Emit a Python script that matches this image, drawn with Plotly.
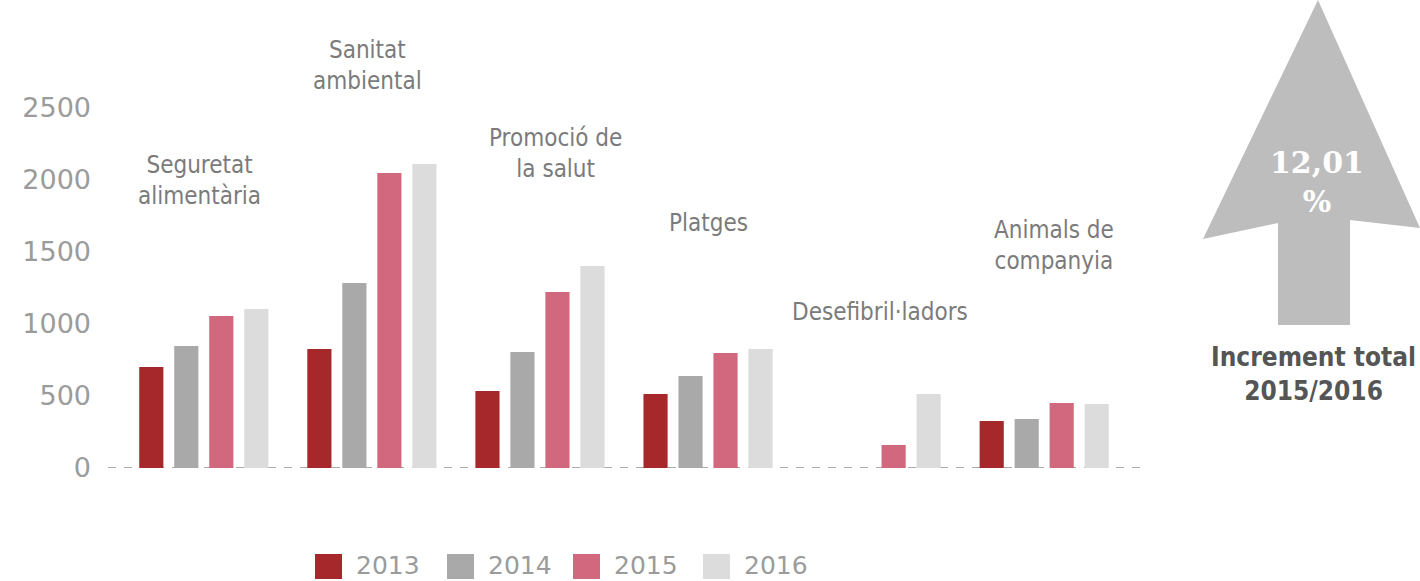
import plotly.graph_objects as go

W, H = 1420, 581
L, R, T, B = 108, 1140, 36, 468

categories = ["Seguretat<br>alimentària", "Sanitat<br>ambiental", "Promoció de<br>la salut",
              "Platges", "Desefibril·ladors", "Animals de<br>companyia"]
years = ["2013", "2014", "2015", "2016"]
v2013 = [701, 826, 535, 514, 0, 326]
v2014 = [847, 1285, 806, 639, 0, 340]
v2015 = [1056, 2049, 1222, 799, 160, 451]
v2016 = [1104, 2111, 1403, 826, 514, 444]
colors = ["#a6282b", "#a9a9a9", "#d1687d", "#dcdcdc"]
tick_vals = [0, 500, 1000, 1500, 2000, 2500]
increment_text = "12,01<br>%"
increment_label = "Increment total<br>2015/2016"

def px(x):
    return (x - L) / (R - L)

def py(y):
    return (B - y) / (B - T)

fig = go.Figure()
idx = list(range(len(categories)))
for yr, vals, c in zip(years, [v2013, v2014, v2015, v2016], colors):
    fig.add_trace(go.Bar(x=idx, y=vals, name=yr, marker=dict(color=c, line=dict(width=0)),
                         showlegend=False))

cond = "DejaVu Sans Condensed, sans-serif"
label_font = dict(family=cond, size=24, color="#7b7b7b")
label_pos = [(199, 180), (367, 65), (555, 153), (708, 223), (880, 312), (1054, 245)]
anns = []
for cat, (lx, ly) in zip(categories, label_pos):
    anns.append(dict(text=cat, x=px(lx), y=py(ly), xref="paper", yref="paper",
                     showarrow=False, font=label_font, xanchor="center", yanchor="middle"))

# arrow
arrow_pts = [(1318, 0), (1420, 228), (1350, 220), (1350, 325), (1278, 325), (1278, 223), (1203, 239)]
path = "M " + " L ".join(f"{px(x):.5f},{py(y):.5f}" for x, y in arrow_pts) + " Z"
shapes = [dict(type="path", path=path, xref="paper", yref="paper", fillcolor="#bdbdbd",
               line=dict(width=0), layer="below")]
anns.append(dict(text="<b>" + increment_text + "</b>", x=px(1317), y=py(182), xref="paper", yref="paper",
                 showarrow=False, font=dict(family="DejaVu Serif", size=30, color="white"),
                 xanchor="center", yanchor="middle"))
anns.append(dict(text="<b>" + increment_label + "</b>", x=px(1313), y=py(374), xref="paper", yref="paper",
                 showarrow=False, font=dict(family=cond, size=26, color="#555555"),
                 xanchor="center", yanchor="middle"))

# dashed baseline
shapes.append(dict(type="line", xref="paper", yref="y", x0=0, x1=1, y0=0, y1=0,
                   line=dict(color="#aaaaaa", width=2, dash="8px,8px"), layer="below"))

# legend drawn as swatches + labels
leg_x = [315, 447, 573, 703]
for yr, c, lx in zip(years, colors, leg_x):
    shapes.append(dict(type="rect", xref="paper", yref="paper", x0=px(lx), x1=px(lx + 27),
                       y0=py(579), y1=py(554), fillcolor=c, line=dict(width=0)))
    anns.append(dict(text=yr, x=px(lx + 39), y=py(565), xref="paper", yref="paper", showarrow=False,
                     xanchor="left", yanchor="middle",
                     font=dict(family="DejaVu Sans", size=25, color="#9b9b9b")))

fig.update_layout(
    width=W, height=H, margin=dict(l=L, r=W - R, t=T, b=H - B),
    paper_bgcolor="white", plot_bgcolor="white",
    barmode="group", bargap=0.167, bargroupgap=0.31,
    annotations=anns, shapes=shapes,
    xaxis=dict(range=[-0.57, 5.57], showticklabels=False, showgrid=False, zeroline=False, showline=False),
    yaxis=dict(range=[0, 3000], tickvals=tick_vals, showgrid=False, zeroline=False, showline=False,
               tickfont=dict(family="DejaVu Sans", size=27, color="#9b9b9b"), ticklabelstandoff=16),
)
fig.write_html("out.html", config={"displayModeBar": False},
               post_script="document.body.style.margin='0';")
